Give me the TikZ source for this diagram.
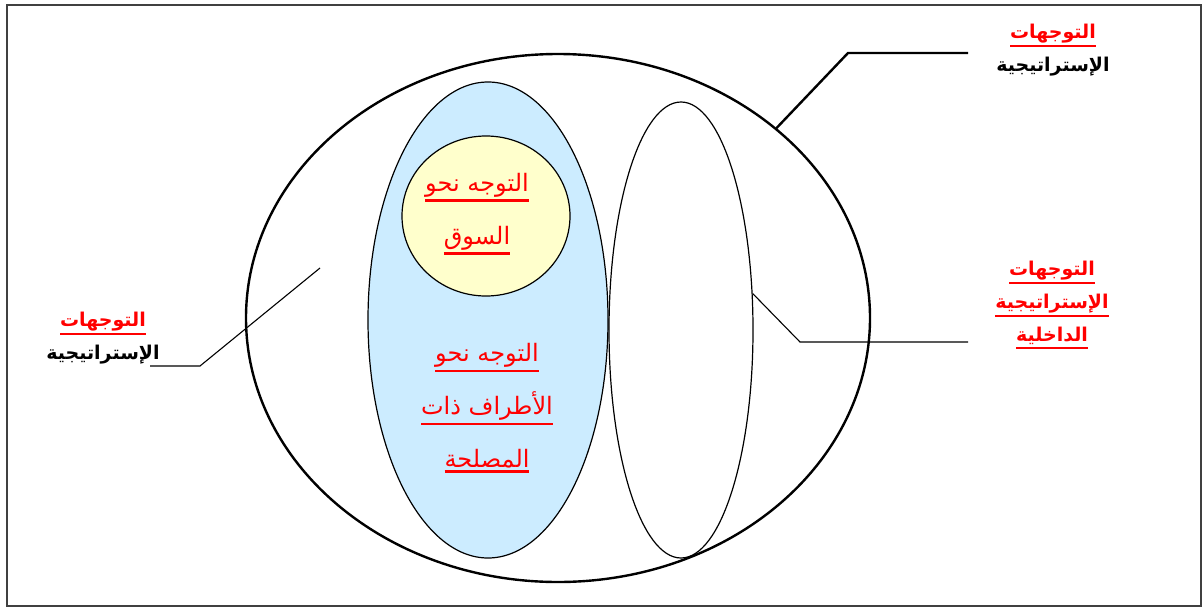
\documentclass[tikz,border=0pt]{standalone}
\usepackage{fontspec}
\usepackage{xcolor}
\usepackage{tikz}
\usetikzlibrary{shapes.geometric, positioning}
\TeXXeTstate=1
\newfontfamily\arabicfont[Script=Arabic]{DejaVu Sans}
\definecolor{ellblue}{RGB}{204, 236, 255}
\definecolor{ellyellow}{RGB}{255, 255, 204}
\definecolor{framegray}{RGB}{64, 64, 64}
\newcommand{\ar}[1]{\beginR #1\endR}
\newcommand{\ul}[1]{\leavevmode\vtop{\hbox{\beginR #1\endR}\kern2pt\hrule height 2.2pt}}

\begin{document}
\begin{tikzpicture}[x=1pt, y=-1pt,
    frame/.style={draw=framegray, line width=1.6pt},
    outer/.style={ellipse, draw, line width=2.4pt, inner sep=0pt, minimum width=624pt, minimum height=528pt},
    part/.style={ellipse, draw, line width=1.2pt, inner sep=0pt},
    lbl/.style={align=center, font=\arabicfont\bfseries\fontsize{19}{33}\selectfont},
    body/.style={align=center, text=red, font=\arabicfont\fontsize{24}{53}\selectfont},
    leader/.style={line width=1.1pt}]

    \useasboundingbox (0,0) rectangle (1204,608);
    \draw[frame] (7,5) rectangle (1201,606);

    % Ellipses
    \node[outer] (whole) at (558,318) {};
    \node[part, fill=ellblue, minimum width=240pt, minimum height=476pt] (stake) at (488,320) {};
    \node[part, minimum width=144pt, minimum height=456pt] (internal) at (681,330) {};
    \node[part, fill=ellyellow, minimum width=168pt, minimum height=160pt] (market) at (486,216) {};

    % Texts inside
    \node[body] (txtMarket) at (477,214) {\ul{التوجه نحو}\\ \ul{السوق}};
    \node[body] (txtStake) at (487,408) {\ul{التوجه نحو}\\ \ul{الأطراف ذات}\\ \ul{المصلحة}};

    % Labels
    \node[lbl] (lblTop) at (1053,50) {\textcolor{red}{\ul{التوجهات}}\\ \ar{الإستراتيجية}};
    \node[lbl, text=red] (lblRight) at (1052,305) {\ul{التوجهات}\\ \ul{الإستراتيجية}\\ \ul{الداخلية}};
    \node[lbl] (lblLeft) at (103,338) {\textcolor{red}{\ul{التوجهات}}\\ \ar{الإستراتيجية}};

    % Leader lines
    \coordinate (topEnd) at (968,53);
    \coordinate (rightEnd) at (968,342);
    \coordinate (leftEnd) at (150,366);
    \coordinate (leftTip) at (320,268);
    \draw[line width=2.4pt] (whole.41.4) -- ([xshift=-120pt]topEnd) -- (topEnd);
    \draw[leader] (internal.27) -- ([xshift=-168pt]rightEnd) -- (rightEnd);
    \draw[leader] (leftTip) -- ([xshift=50pt]leftEnd) -- (leftEnd);
\end{tikzpicture}
\end{document}
